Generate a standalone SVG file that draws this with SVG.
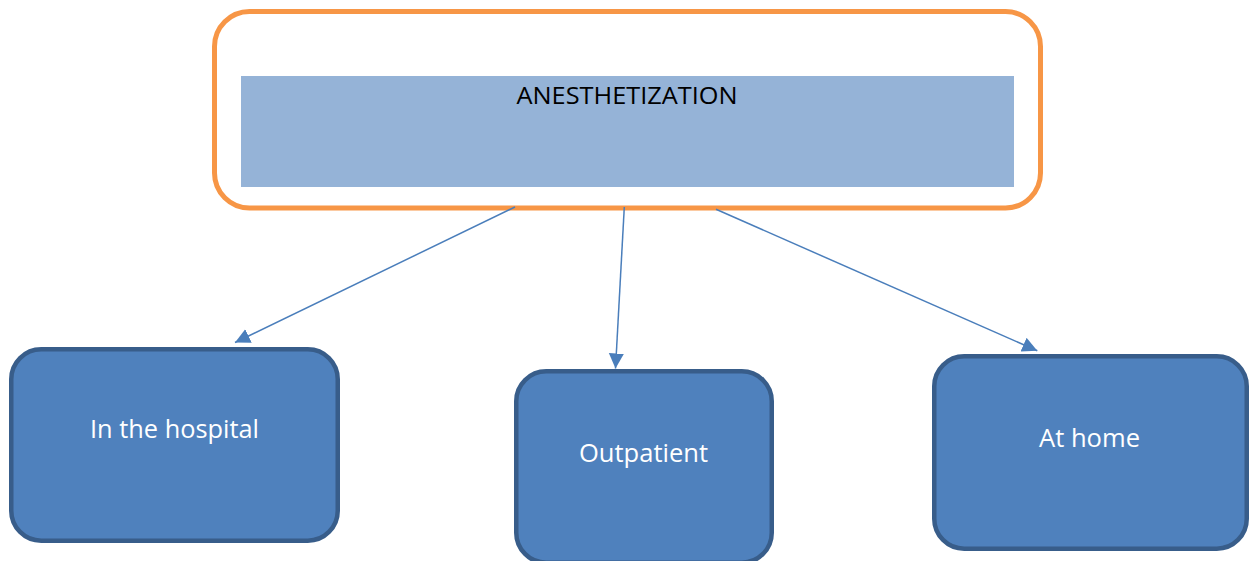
<svg xmlns="http://www.w3.org/2000/svg" width="1250" height="561" viewBox="0 0 1250 561">
<defs>
<style>
.top{fill:#ffffff;stroke:#f79646;stroke-width:5}
.band{fill:#95b3d7}
.box{fill:#4f81bd;stroke:#385d8a;stroke-width:4.5}
.lbl{font-family:"Open Sans","Liberation Sans",sans-serif;font-size:25.5px;fill:#ffffff;text-anchor:middle}
.title{font-family:"Open Sans","Liberation Sans",sans-serif;font-size:24.5px;fill:#000000;text-anchor:middle}
.conn{stroke:#4a7ebb;stroke-width:1.5;fill:none;marker-end:url(#arr)}
</style>
<marker id="arr" markerUnits="userSpaceOnUse" markerWidth="16" markerHeight="16" refX="15" refY="7.5" orient="auto">
<path d="M0,0 L15,7.5 L0,15 z" fill="#4a7ebb"/>
</marker>
</defs>
<rect width="1250" height="561" fill="#ffffff"/>
<g id="anesthetization">
<rect class="top" x="214.5" y="11.5" width="826" height="196.5" rx="35" ry="35"/>
<rect class="band" x="241" y="76" width="773" height="111"/>
<text class="title" x="627" y="103.5" textLength="221" lengthAdjust="spacingAndGlyphs">ANESTHETIZATION</text>
</g>
<g id="connectors">
<line class="conn" x1="515" y1="207" x2="235" y2="342.5"/>
<line class="conn" x1="624.3" y1="207" x2="615.5" y2="368.5"/>
<line class="conn" x1="716" y1="209.3" x2="1037.3" y2="350.7"/>
</g>
<g id="hospital">
<rect class="box" x="11.25" y="349.25" width="326.5" height="191.5" rx="30" ry="30"/>
<text class="lbl" x="174.5" y="437.7" textLength="169" lengthAdjust="spacingAndGlyphs">In the hospital</text>
</g>
<g id="outpatient">
<rect class="box" x="516.25" y="371.25" width="255.5" height="191.5" rx="30" ry="30"/>
<text class="lbl" x="643.5" y="461.7" textLength="129" lengthAdjust="spacingAndGlyphs">Outpatient</text>
</g>
<g id="home">
<rect class="box" x="934.25" y="356.25" width="312.5" height="192.5" rx="30" ry="30"/>
<text class="lbl" x="1089.5" y="446.7" textLength="101" lengthAdjust="spacingAndGlyphs">At home</text>
</g>
</svg>
